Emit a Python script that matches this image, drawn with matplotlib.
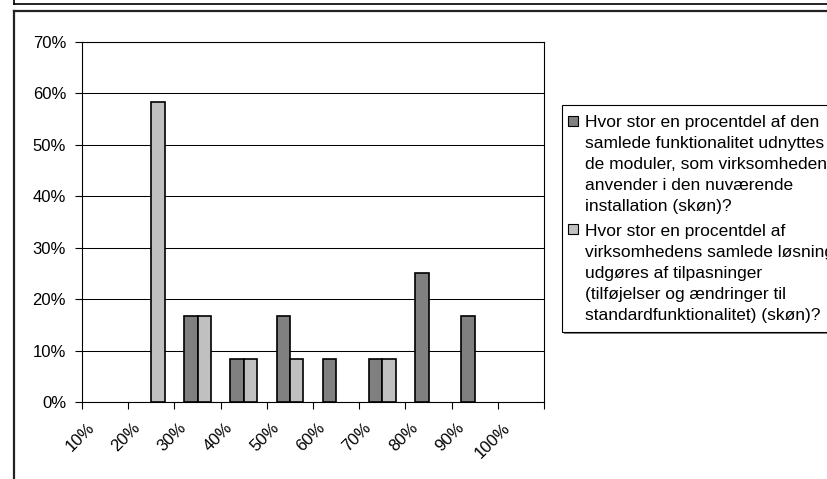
import numpy as np
import matplotlib
matplotlib.use('Agg')
import matplotlib.pyplot as plt
from matplotlib.patches import Rectangle
from matplotlib.lines import Line2D
from matplotlib.ticker import PercentFormatter
from matplotlib.transforms import ScaledTranslation

plt.rcParams['font.family'] = ['Liberation Sans', 'DejaVu Sans']

# data (share of answers, in %)
categories = ['10%', '20%', '30%', '40%', '50%', '60%', '70%', '80%', '90%', '100%']
udnyttes = [0, 0, 16.7, 8.3, 16.7, 8.3, 8.3, 25.0, 16.7, 0]
tilpasninger = [0, 58.3, 16.7, 8.3, 8.3, 0, 8.3, 0, 0, 0]
series_labels = [
    "Hvor stor en procentdel af den\nsamlede funktionalitet udnyttes\n"
    "de moduler, som virksomheden\nanvender i den nuværende\ninstallation (skøn)?",
    "Hvor stor en procentdel af\nvirksomhedens samlede løsning\n"
    "udgøres af tilpasninger\n(tilføjelser og ændringer til\nstandardfunktionalitet) (skøn)?",
]
colors = ['#808080', '#c0c0c0']

W, H = 827, 479
fig = plt.figure(figsize=(W / 100, H / 100), dpi=100)


def fx(px):
    return px / W


def fy(py):
    return 1 - py / H


# plot area in pixel terms: left 82, right 544, top 42, bottom 402
ax = fig.add_axes([fx(82), fy(402), fx(544 - 82), (402 - 42) / H])

x = np.arange(len(categories))
w = 0.29
# Excel draws nothing for an empty category, so leave zero bars out
v1 = np.array(udnyttes, dtype=float)
v2 = np.array(tilpasninger, dtype=float)
ax.bar(x - w, np.where(v1 > 0, v1, np.nan), width=w, align='edge',
       color=colors[0], edgecolor='black', linewidth=1.2, zorder=3)
ax.bar(x, np.where(v2 > 0, v2, np.nan), width=w, align='edge',
       color=colors[1], edgecolor='black', linewidth=1.2, zorder=3)

ax.set_xlim(-0.5, len(categories) - 0.5)
ax.set_ylim(0, 70)
ax.set_yticks(np.arange(0, 71, 10))
ax.yaxis.set_major_formatter(PercentFormatter(decimals=0))
ax.yaxis.grid(True, color='black', linewidth=0.75)
ax.set_axisbelow(True)

for s in ax.spines.values():
    s.set_color('black')
    s.set_linewidth(0.8)

ax.tick_params(axis='y', length=5, width=0.8, pad=6.5, labelsize=12)
ax.set_xticks(x, categories)
ax.set_xticks(np.arange(-0.5, len(categories), 1), minor=True)
ax.tick_params(axis='x', which='major', length=0, pad=13, labelsize=12)
ax.tick_params(axis='x', which='minor', length=5, width=0.8)
for lbl in ax.get_xticklabels():
    lbl.set_rotation(45)
    lbl.set_ha('right')
    lbl.set_va('top')
    lbl.set_transform(lbl.get_transform() +
                      ScaledTranslation(-8 / 100, 0, fig.dpi_scale_trans))

# chart frames (previous chart's bottom edge and this chart's border)
fig.add_artist(Line2D([fx(14), 1], [fy(3.5), fy(3.5)], color='black', lw=1.2))
fig.add_artist(Line2D([fx(14), fx(14)], [1, fy(3.5)], color='black', lw=1.2))
fig.add_artist(Line2D([fx(14), 1], [fy(11), fy(11)], color='#222222', lw=1.6))
fig.add_artist(Line2D([fx(14), fx(14)], [fy(11), 0], color='#222222', lw=1.6))

# legend, drawn by hand so the key sits on the first line like in Excel
lx0, ly0, ly1 = 562, 105, 332
fig.add_artist(Rectangle((fx(lx0 + 2), fy(ly1 + 2)), fx(400), (ly1 - ly0) / H,
                         transform=fig.transFigure, facecolor='#808080',
                         edgecolor='none'))
fig.add_artist(Rectangle((fx(lx0), fy(ly1)), fx(400), (ly1 - ly0) / H,
                         transform=fig.transFigure, facecolor='white',
                         edgecolor='black', linewidth=0.8))
key_tops = [116, 224]
text_base = [127, 236]
line_gap = 21
for label, color, kt, tb in zip(series_labels, colors, key_tops, text_base):
    fig.add_artist(Rectangle((fx(568), fy(kt + 10)), fx(10), 10 / H,
                             transform=fig.transFigure, facecolor=color,
                             edgecolor='black', linewidth=0.8))
    for j, line in enumerate(label.split('\n')):
        fig.text(fx(585), fy(tb + j * line_gap), line, fontsize=12.5,
                 ha='left', va='baseline')

fig.savefig('out.png', dpi=100)
